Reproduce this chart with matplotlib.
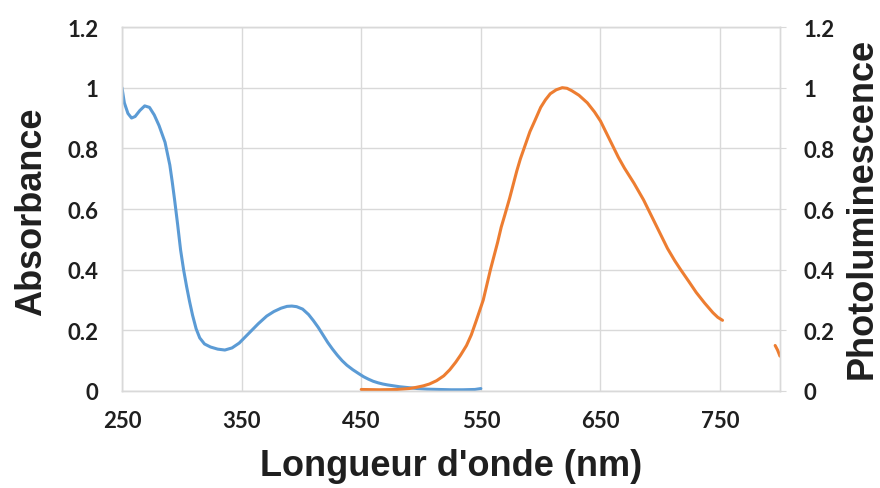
import matplotlib.pyplot as plt

# absorbance (left axis)
abs_wl = [250, 252, 255, 258, 261, 265, 269, 273, 277, 281, 286, 290, 292, 294, 296.5, 299,
          301.5, 304, 306.5, 309, 312, 315, 319, 324, 330, 336, 342, 348, 357, 364, 371, 377,
          383, 388, 392, 396, 401, 406, 410, 414, 418, 422, 426, 430, 434, 438, 443, 448, 452,
          456, 460, 464, 468, 472, 477, 482, 487, 492, 497, 505, 515, 525, 535, 545, 550]
abs_val = [1.00, 0.95, 0.915, 0.90, 0.905, 0.925, 0.94, 0.935, 0.91, 0.875, 0.82, 0.745, 0.69,
           0.63, 0.55, 0.465, 0.40, 0.345, 0.295, 0.25, 0.205, 0.175, 0.155, 0.145, 0.138,
           0.135, 0.142, 0.158, 0.194, 0.222, 0.247, 0.262, 0.273, 0.279, 0.28, 0.278, 0.27,
           0.252, 0.232, 0.21, 0.185, 0.16, 0.138, 0.118, 0.10, 0.085, 0.07, 0.057, 0.047,
           0.039, 0.032, 0.027, 0.023, 0.02, 0.017, 0.014, 0.012, 0.01, 0.008, 0.006, 0.005,
           0.004, 0.004, 0.005, 0.008]

# photoluminescence (right axis)
pl_wl = [450, 465, 480, 490, 496, 502, 507, 513, 519, 524, 529, 533, 538, 542, 546, 549, 552,
         555, 558, 561, 564, 567, 570, 574, 577, 580, 583, 587, 591, 595, 600, 604, 608, 613,
         618, 622, 626, 632, 639, 645, 650, 655, 660, 665, 670, 678, 686, 696, 706, 712, 717,
         724, 730, 737, 744, 748, 752]
pl_val = [0.005, 0.004, 0.005, 0.008, 0.012, 0.017, 0.023, 0.034, 0.05, 0.07, 0.095, 0.118,
          0.15, 0.185, 0.23, 0.265, 0.30, 0.35, 0.40, 0.445, 0.49, 0.54, 0.58, 0.635, 0.68,
          0.725, 0.765, 0.81, 0.855, 0.89, 0.935, 0.96, 0.98, 0.993, 1.0, 0.998, 0.99, 0.975,
          0.95, 0.92, 0.89, 0.85, 0.81, 0.77, 0.735, 0.685, 0.63, 0.55, 0.47, 0.43, 0.40, 0.36,
          0.325, 0.29, 0.258, 0.243, 0.233]
pl_tail_wl = [796, 798, 800]
pl_tail_val = [0.15, 0.135, 0.115]

x_ticks = [250, 350, 450, 550, 650, 750]
y_ticks = [0, 0.2, 0.4, 0.6, 0.8, 1, 1.2]
y_labels = ['0', '0.2', '0.4', '0.6', '0.8', '1', '1.2']

blue = '#5B9BD5'
orange = '#ED7D31'
grid_c = '#D9D9D9'
txt_c = '#1f1f1f'
tick_font = 'Lato'
label_font = 'Liberation Sans'

fig = plt.figure(figsize=(8.8, 4.89), dpi=100)
ax = fig.add_axes([0.1386, 0.1984, 0.7477, 0.7443])
ax2 = ax.twinx()

ax.plot(abs_wl, abs_val, color=blue, lw=2.2, solid_capstyle='round', solid_joinstyle='round')
ax2.plot(pl_wl, pl_val, color=orange, lw=2.2, solid_capstyle='round', solid_joinstyle='round')
ax2.plot(pl_tail_wl, pl_tail_val, color=orange, lw=2.2, solid_capstyle='round')

for a in (ax, ax2):
    a.set_xlim(250, 800)
    a.set_ylim(0, 1.2)
    a.set_yticks(y_ticks)
    a.set_yticklabels(y_labels)
    for s in a.spines.values():
        s.set_color(grid_c)
        s.set_linewidth(1.0)

ax.set_xticks(x_ticks)
ax.grid(True, color=grid_c, lw=1.0)
ax.set_axisbelow(True)
ax.tick_params(axis='x', length=0, labelsize=16, pad=14)
ax.tick_params(axis='y', length=0, labelsize=16, pad=17)
ax2.tick_params(axis='y', length=4, color=grid_c, labelsize=16, pad=13)
for lab in ax.get_xticklabels() + ax.get_yticklabels() + ax2.get_yticklabels():
    lab.set_fontfamily(tick_font)
    lab.set_fontweight('bold')
    lab.set_color(txt_c)

ax.set_ylabel('Absorbance', fontsize=26, fontweight='bold', family=label_font, color=txt_c)
ax2.set_ylabel('Photoluminescence', fontsize=26, fontweight='bold', family=label_font, color=txt_c)
ax.set_xlabel("Longueur d'onde (nm)", fontsize=26, fontweight='bold', family=label_font, color=txt_c)
ax.yaxis.set_label_coords(-0.110, 0.496)
ax2.yaxis.set_label_coords(1.099, 0.505)
ax.xaxis.set_label_coords(0.5, -0.157)

fig.savefig('out.png', dpi=100)
